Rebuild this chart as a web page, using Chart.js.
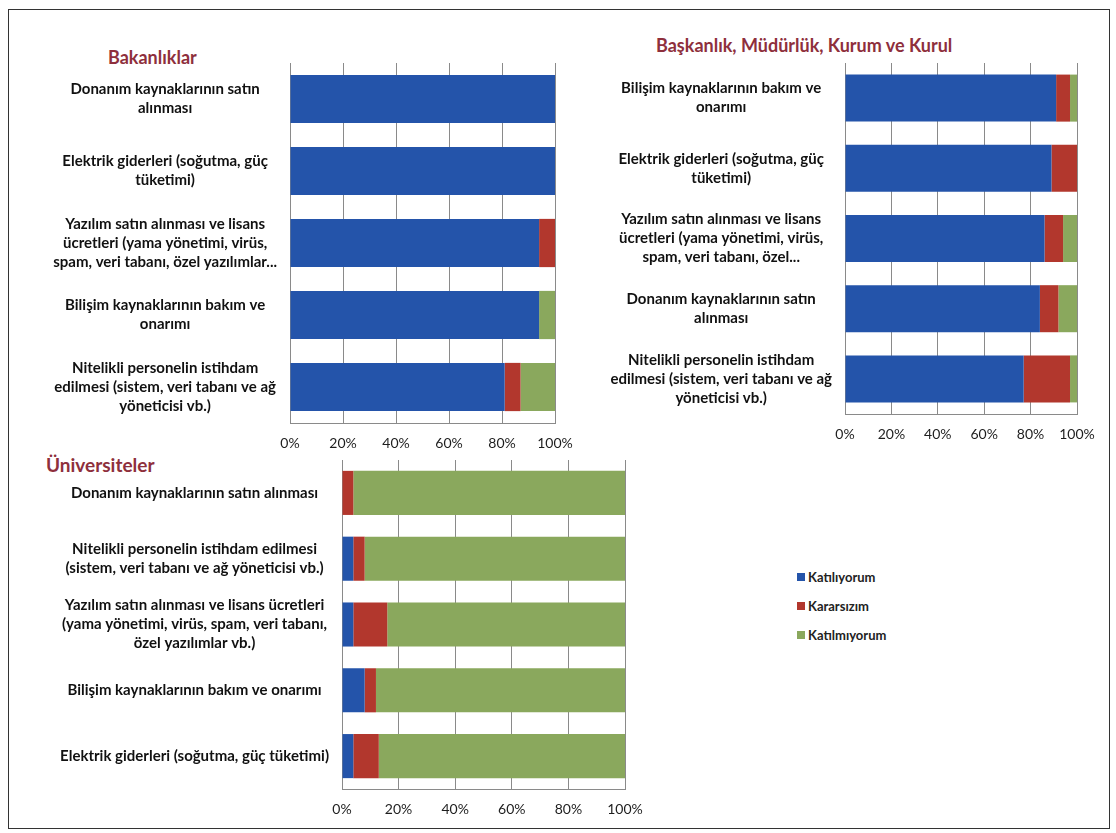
<!DOCTYPE html>
<html>
<head>
<meta charset="utf-8">
<script src="https://cdn.jsdelivr.net/npm/chart.js@4.4.1/dist/chart.umd.min.js"></script>
<style>
  html, body { margin: 0; padding: 0; background: #fff; }
  body { width: 1116px; height: 833px; position: relative; overflow: hidden; font-family: Lato, "Open Sans", sans-serif; }
  .frame { position: absolute; left: 8px; top: 9px; width: 1100px; height: 818px; border: 1.5px solid #333; }
  .box { position: absolute; }
  .title { position: absolute; color: #8e2f3c; font-weight: bold; white-space: nowrap; }
  #legend { position: absolute; left: 797px; top: 569px; font-size: 13px; font-weight: bold; color: #222; }
  #legend div { height: 29px; display: flex; align-items: flex-start; }
  #legend span.sw { display: inline-block; width: 8px; height: 8px; margin: 4px 3px 0 0; }
</style>
</head>
<body>
<div class="frame"></div>

<div class="title" style="left:108px; top:46px; font-size:18px;">Bakanlıklar</div>
<div class="title" style="left:656px; top:34px; font-size:18px;">Başkanlık, Müdürlük, Kurum ve Kurul</div>
<div class="title" style="left:46px; top:453px; font-size:19px;">Üniversiteler</div>

<div class="box" style="left:40px; top:55px; width:535px; height:400px;"><canvas id="bak"></canvas></div>
<div class="box" style="left:600px; top:55px; width:497px; height:391px;"><canvas id="bask"></canvas></div>
<div class="box" style="left:30px; top:452px; width:615px; height:369px;"><canvas id="uni"></canvas></div>

<div id="legend"></div>

<script>
// series
const seriesNames = ['Katılıyorum', 'Kararsızım', 'Katılmıyorum'];
const seriesColors = ['#2454aa', '#b2372d', '#8aa85d'];

// Bakanlıklar
const bakLabels = [
  ['Donanım kaynaklarının satın', 'alınması'],
  ['Elektrik giderleri (soğutma, güç', 'tüketimi)'],
  ['Yazılım satın alınması ve lisans', 'ücretleri (yama yönetimi, virüs,', 'spam, veri tabanı, özel yazılımlar...'],
  ['Bilişim kaynaklarının bakım ve', 'onarımı'],
  ['Nitelikli personelin istihdam', 'edilmesi (sistem, veri tabanı ve ağ', 'yöneticisi vb.)']
];
const bakKatiliyorum = [100, 100, 94, 94, 81];
const bakKararsizim = [0, 0, 6, 0, 6];
const bakKatilmiyorum = [0, 0, 0, 6, 13];

// Başkanlık, Müdürlük, Kurum ve Kurul
const baskLabels = [
  ['Bilişim kaynaklarının bakım ve', 'onarımı'],
  ['Elektrik giderleri (soğutma, güç', 'tüketimi)'],
  ['Yazılım satın alınması ve lisans', 'ücretleri (yama yönetimi, virüs,', 'spam, veri tabanı, özel...'],
  ['Donanım kaynaklarının satın', 'alınması'],
  ['Nitelikli personelin istihdam', 'edilmesi (sistem, veri tabanı ve ağ', 'yöneticisi vb.)']
];
const baskKatiliyorum = [91, 89, 86, 84, 77];
const baskKararsizim = [6, 11, 8, 8, 20];
const baskKatilmiyorum = [3, 0, 6, 8, 3];

// Üniversiteler
const uniLabels = [
  'Donanım kaynaklarının satın alınması',
  ['Nitelikli personelin istihdam edilmesi', '(sistem, veri tabanı ve ağ yöneticisi vb.)'],
  ['Yazılım satın alınması ve lisans ücretleri', '(yama yönetimi, virüs, spam, veri tabanı,', 'özel yazılımlar vb.)'],
  'Bilişim kaynaklarının bakım ve onarımı',
  'Elektrik giderleri (soğutma, güç tüketimi)'
];
const uniKatiliyorum = [0, 4, 4, 8, 4];
const uniKararsizim = [4, 4, 12, 4, 9];
const uniKatilmiyorum = [96, 92, 84, 88, 87];

const xTicks = [0, 20, 40, 60, 80, 100];

function makeChart(id, labels, values, yWidth) {
  return new Chart(document.getElementById(id), {
    type: 'bar',
    data: {
      labels,
      datasets: values.map((v, i) => ({
        label: seriesNames[i],
        data: v,
        backgroundColor: seriesColors[i],
        borderWidth: 0,
        barPercentage: 0.67,
        categoryPercentage: 1
      }))
    },
    options: {
      indexAxis: 'y',
      responsive: true,
      maintainAspectRatio: false,
      animation: false,
      layout: { padding: { top: 8, bottom: 0, left: 0, right: 20 } },
      plugins: { legend: { display: false }, tooltip: { enabled: false } },
      scales: {
        x: {
          stacked: true,
          min: 0, max: 100,
          afterBuildTicks: ax => { ax.ticks = xTicks.map(v => ({ value: v })); },
          afterFit: ax => { ax.height = 32; ax.paddingLeft = 0; ax.paddingRight = 0; },
          grid: { color: '#8a8a8a', lineWidth: 1, drawTicks: false },
          border: { display: true, color: '#8a8a8a', width: 1 },
          ticks: { callback: v => v + '%', color: '#1e1e1e', font: { family: 'Lato', size: 14 }, padding: 12, maxRotation: 0 }
        },
        y: {
          stacked: true,
          afterFit: ax => { ax.width = yWidth; ax.paddingTop = 0; ax.paddingBottom = 0; },
          grid: { display: false },
          border: { display: false },
          ticks: { crossAlign: 'center', color: '#111', padding: 5, autoSkip: false,
                   font: { family: 'Lato', size: 15, weight: 'bold', lineHeight: 1.27 } }
        }
      }
    }
  });
}

makeChart('bak', bakLabels, [bakKatiliyorum, bakKararsizim, bakKatilmiyorum], 250);
makeChart('bask', baskLabels, [baskKatiliyorum, baskKararsizim, baskKatilmiyorum], 245);
makeChart('uni', uniLabels, [uniKatiliyorum, uniKararsizim, uniKatilmiyorum], 312);

const legend = document.getElementById('legend');
seriesNames.forEach((n, i) => {
  const row = document.createElement('div');
  row.innerHTML = '<span class="sw" style="background:' + seriesColors[i] + '"></span>' + n;
  legend.appendChild(row);
});
</script>
</body>
</html>
